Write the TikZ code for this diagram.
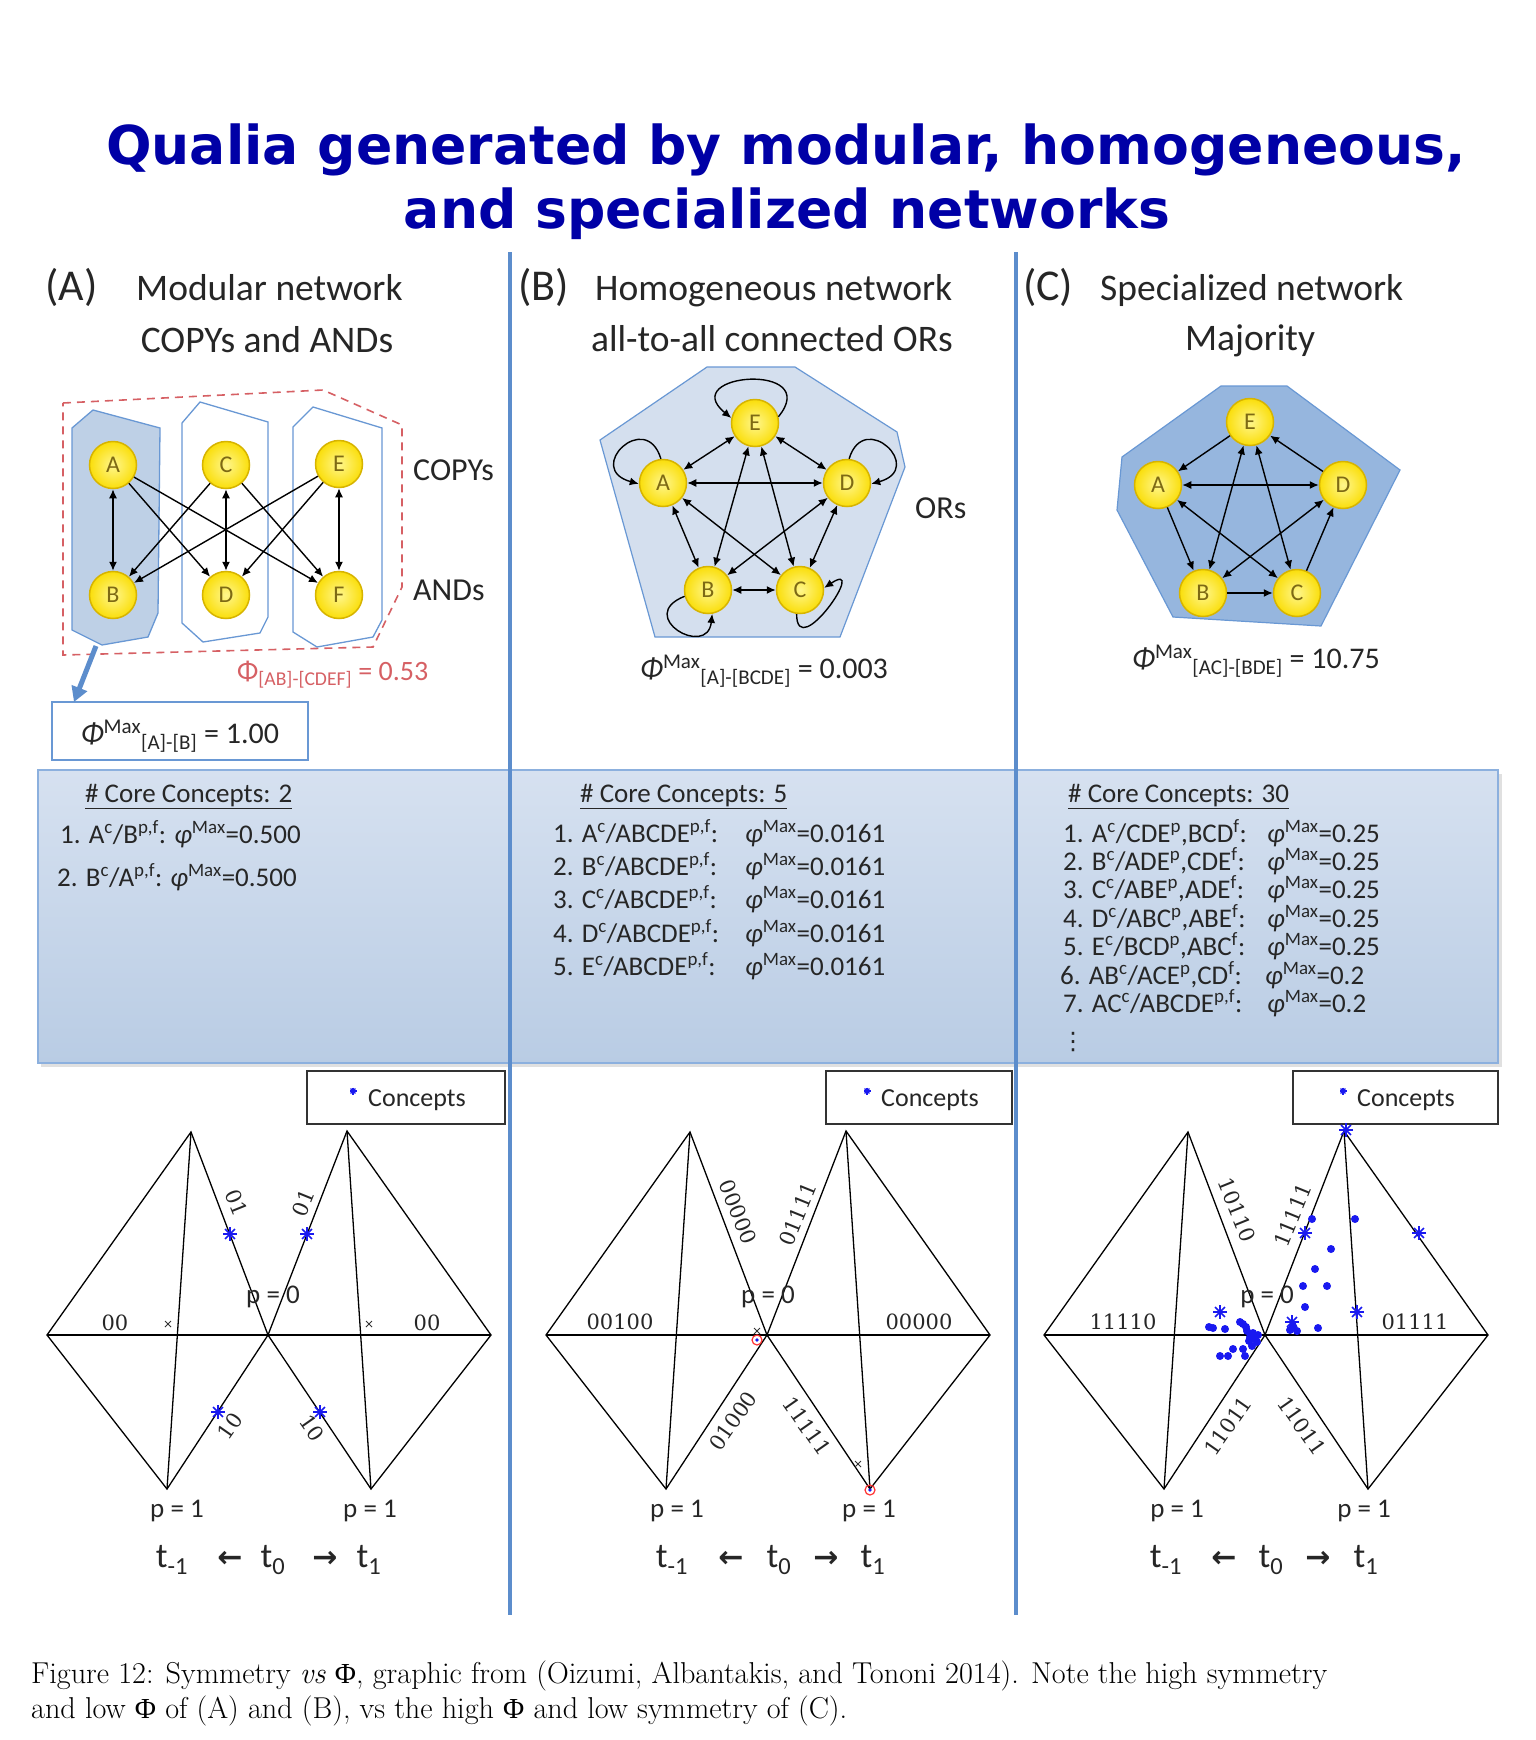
\documentclass[tikz,border=0pt]{standalone}
\usepackage{fontspec}
\newfontfamily\calib{Carlito}
\newfontfamily\djs{DejaVu Sans}
\newfontfamily\djsb{DejaVu Sans Bold}
\newfontfamily\djserif{DejaVu Serif}
\newfontfamily\libser{Liberation Serif}
\usetikzlibrary{arrows.meta,calc}
\definecolor{titleblue}{RGB}{0,0,166}
\definecolor{divblue}{RGB}{92,141,204}
\definecolor{boxtop}{RGB}{214,225,240}
\definecolor{boxbot}{RGB}{185,204,228}
\definecolor{boxedge}{RGB}{140,176,222}
\definecolor{modfill}{RGB}{190,208,230}
\definecolor{modedge}{RGB}{105,152,212}
\definecolor{pentB}{RGB}{212,223,238}
\definecolor{pentC}{RGB}{150,182,222}
\definecolor{nodeY}{RGB}{250,222,10}
\definecolor{nodeL}{RGB}{255,246,140}
\definecolor{nodeYd}{RGB}{215,180,0}
\definecolor{nodeT}{RGB}{125,105,20}
\definecolor{phired}{RGB}{214,96,100}
\definecolor{starblue}{RGB}{25,25,240}
\definecolor{txt}{RGB}{38,38,38}
\newcommand\fs[1]{\fontsize{#1}{#1}\selectfont}
\newcommand\spp[1]{\textsuperscript{#1}}
\newcommand\sbb[1]{\textsubscript{#1}}
\newcommand\PhiMax{{\itshape Φ}\spp{Max}}
\newcommand\phimax{{\itshape φ}\spp{Max}}
\newcommand\capPhi{{\libser\fontsize{29}{35}\selectfont Φ}}
\newcommand\diamondplot[1]{%
  \coordinate (#1L) at (-221,0);
  \coordinate (#1T) at (-77,-203);
  \coordinate (#1B) at (-101,154);
  \coordinate (#1M) at (0,0);
  \coordinate (#1U) at (79,-204);
  \coordinate (#1R) at (223,0);
  \coordinate (#1D) at (103,154);
  \draw[plotline] (#1L) -- (#1T) -- (#1M) -- (#1B) -- cycle;
  \draw[plotline] (#1T) -- (#1B);
  \draw[plotline] (#1L) -- (#1R);
  \draw[plotline] (#1M) -- (#1U) -- (#1R) -- (#1D) -- cycle;
  \draw[plotline] (#1U) -- (#1D);
}
\tikzset{
  ttl/.style={font=\djsb\fs{53.6}, text=titleblue, inner sep=0pt, anchor=base},
  hdr/.style={font=\calib\fs{37.5}, text=txt, inner sep=0pt, anchor=base west},
  hdrbig/.style={font=\calib\fs{44}, text=txt, inner sep=0pt, anchor=base west},
  lbl/.style={font=\calib\fs{32}, text=txt, inner sep=0pt, anchor=base west},
  phit/.style={font=\calib\fs{30}, text=txt, inner sep=0pt, anchor=base west},
  core/.style={font=\calib\fs{27}, text=txt, inner sep=0pt, anchor=base west},
  ball/.style={circle, draw=nodeYd, line width=1.5pt, minimum size=47pt, inner sep=0pt,
    inner color=nodeL, outer color=nodeY, font=\calib\fs{24}, text=nodeT},
  ar/.style={-{Latex[length=9pt,width=8pt]}, line width=1.4pt, black},
  bi/.style={{Latex[length=9pt,width=8pt]}-{Latex[length=9pt,width=8pt]}, line width=1.4pt, black},
  plotline/.style={line width=1.3pt, black},
  bin/.style={font=\djserif\fs{21}, text=black!85, inner sep=0pt},
  pz/.style={font=\calib\fs{27}, text=txt, inner sep=0pt},
  pone/.style={font=\calib\fs{27}, text=txt, inner sep=0pt, anchor=base},
  tl/.style={font=\calib\fs{35}, text=txt, inner sep=0pt, anchor=base},
  arrl/.style={font=\djsb\fs{30}, text=txt, inner sep=0pt, anchor=base},
  leg/.style={draw=black!80, line width=2pt, inner sep=0pt},
  legt/.style={font=\calib\fs{26}, text=txt, inner sep=0pt, anchor=base west},
  ast/.pic={\foreach \a in {0,45,90,135}{\draw[starblue, line width=1.7pt] (\a:7pt) -- (\a+180:7pt);}},
  asts/.pic={\foreach \a in {0,45,90,135}{\draw[starblue, line width=1.2pt] (\a:3.5pt) -- (\a+180:3.5pt);}},
  xm/.pic={\draw[black!80, line width=0.9pt] (-3pt,-3pt) -- (3pt,3pt) (-3pt,3pt) -- (3pt,-3pt);},
}
\begin{document}
\begin{tikzpicture}[x=1pt,y=-1pt]
\useasboundingbox (0,0) rectangle (1536,1740);
\fill[white] (0,0) rectangle (1536,1740);

% ---------- title ----------
\node[ttl] (title1) at (786,164) {Qualia generated by modular, homogeneous,};
\node[ttl] (title2) at (787,228) {and specialized networks};

% ---------- core concepts band ----------
\fill[black!12] (41,774) rectangle (1502,1067);
\shadedraw[top color=boxtop, bottom color=boxbot, draw=boxedge, line width=1.5pt] (38,770) rectangle (1498,1063);

% ---------- dividers ----------
\draw[divblue, line width=4pt] (510,252) -- (510,1615);
\draw[divblue, line width=4pt] (1016,252) -- (1016,1615);

% ---------- headers ----------
\node[hdrbig] (ha) at (45,300) {(A)};
\node[hdr] (hat) at (136,300) {Modular network};
\node[hdr, anchor=base] (has) at (267,352) {COPYs and ANDs};
\node[hdrbig] (hb) at (518,300) {(B)};
\node[hdr] (hbt) at (595,300) {Homogeneous network};
\node[hdr, anchor=base] (hbs) at (772,351) {all-to-all connected ORs};
\node[hdrbig] (hc) at (1023,300) {(C)};
\node[hdr] (hct) at (1100,300) {Specialized network};
\node[hdr, anchor=base] (hcs) at (1250,350) {Majority};

% ---------- panel A network ----------
\draw[phired, line width=1.6pt, dash pattern=on 8pt off 6pt] (63,403) -- (323,390) -- (402,425) -- (402,587) -- (373,647) -- (63,655) -- cycle;
\draw[modedge, line width=1.3pt, fill=modfill] (72,428) -- (93,410) -- (160,428) -- (158,613) -- (148,637) -- (102,645) -- (72,630) -- cycle;
\draw[modedge, line width=1.3pt] (182,423) -- (200,402) -- (268,422) -- (268,617) -- (260,633) -- (203,642) -- (182,623) -- cycle;
\draw[modedge, line width=1.3pt] (293,427) -- (313,407) -- (382,428) -- (382,620) -- (373,637) -- (317,647) -- (293,632) -- cycle;
\node[ball] (aA) at (113,465) {A};
\node[ball] (aC) at (226,465) {C};
\node[ball] (aE) at (339,464) {E};
\node[ball] (aB) at (113,595) {B};
\node[ball] (aD) at (226,595) {D};
\node[ball] (aF) at (339,595) {F};
\draw[bi] (aA) -- (aB);
\draw[bi] (aC) -- (aD);
\draw[bi] (aE) -- (aF);
\draw[ar] (aA) -- (aD);
\draw[ar] (aA) -- (aF);
\draw[ar] (aC) -- (aB);
\draw[ar] (aC) -- (aF);
\draw[ar] (aE) -- (aB);
\draw[ar] (aE) -- (aD);
\node[lbl] (copys) at (413,480) {COPYs};
\node[lbl] (ands) at (413,600) {ANDs};
\node[phit, text=phired, font=\calib\fs{28}] (phiAB) at (237,680) {Φ\sbb{[AB]-[CDEF]} = 0.53};
\node[draw=modedge, line width=1.3pt, fill=white, minimum width=256pt, minimum height=58pt, inner sep=0pt] (phiAbox) at (180,731) {};
\node[phit, anchor=base] (phiA) at (180,743) {\PhiMax\sbb{[A]-[B]} = 1.00};
\coordinate (arrS) at (96,646);
\coordinate (arrE) at (74,702);
\draw[divblue, line width=5pt, -{Triangle[length=15pt,width=16pt]}] (arrS) -- (arrE);

% ---------- panel B network ----------
\draw[modedge, line width=1.2pt, fill=pentB] (600,440) -- (707,367) -- (795,367) -- (897,432) -- (905,467) -- (840,637) -- (655,637) -- cycle;
\node[ball] (bE) at (755,423) {E};
\node[ball] (bA) at (663,483) {A};
\node[ball] (bD) at (847,483) {D};
\node[ball] (bB) at (708,590) {B};
\node[ball] (bC) at (800,590) {C};
\draw[bi] (bA) -- (bE);
\draw[bi] (bE) -- (bD);
\draw[bi] (bA) -- (bD);
\draw[bi] (bA) -- (bB);
\draw[bi] (bD) -- (bC);
\draw[bi] (bB) -- (bC);
\draw[bi] (bE) -- (bB);
\draw[bi] (bE) -- (bC);
\draw[bi] (bA) -- (bC);
\draw[bi] (bD) -- (bB);
\draw[ar] (bE.15) .. controls +(45,-55) and +(-55,-45) .. (bE.168);
\draw[ar] (bA.95) .. controls +(-15,-50) and +(-55,-15) .. (bA.182);
\draw[ar] (bD.85) .. controls +(15,-50) and +(55,-15) .. (bD.-2);
\draw[ar] (bB.195) .. controls +(-50,20) and +(-5,45) .. (bB.280);
\draw[ar] (bC.262) .. controls +(0,50) and +(45,-30) .. (bC.5);
\node[lbl] (ors) at (915,518) {ORs};
\node[phit] (phiB) at (640,678) {\PhiMax\sbb{[A]-[BCDE]} = 0.003};

% ---------- panel C network ----------
\draw[modedge, line width=1.2pt, fill=pentC] (1122,457) -- (1221,386) -- (1287,386) -- (1400,470) -- (1321,626) -- (1173,617) -- (1117,510) -- cycle;
\node[ball] (cE) at (1250,422) {E};
\node[ball] (cA) at (1158,485) {A};
\node[ball] (cD) at (1343,485) {D};
\node[ball] (cB) at (1203,593) {B};
\node[ball] (cC) at (1297,593) {C};
\draw[ar] (cE) -- (cA);
\draw[ar] (cD) -- (cE);
\draw[bi] (cA) -- (cD);
\draw[ar] (cA) -- (cB);
\draw[bi] (cA) -- (cC);
\draw[bi] (cE) -- (cB);
\draw[bi] (cE) -- (cC);
\draw[bi] (cD) -- (cB);
\draw[ar] (cB) -- (cC);
\draw[ar] (cC) -- (cD);
\node[phit] (phiC) at (1132,668) {\PhiMax\sbb{[AC]-[BDE]} = 10.75};

% ---------- core concepts text ----------
\node[core] (ccA) at (85,802) {\underline{\# Core Concepts: 2}};
\node[core] (ccA1) at (60,843) {1. A\spp{c}/B\spp{p,f}: \phimax=0.500};
\node[core] (ccA2) at (57,886) {2. B\spp{c}/A\spp{p,f}: \phimax=0.500};

\node[core] (ccB) at (580,802) {\underline{\# Core Concepts: 5}};
\node[core] (ccB1) at (553,842) {1. A\spp{c}/ABCDE\spp{p,f}:};
\node[core] (ccB2) at (553,875) {2. B\spp{c}/ABCDE\spp{p,f}:};
\node[core] (ccB3) at (553,908) {3. C\spp{c}/ABCDE\spp{p,f}:};
\node[core] (ccB4) at (553,942) {4. D\spp{c}/ABCDE\spp{p,f}:};
\node[core] (ccB5) at (553,975) {5. E\spp{c}/ABCDE\spp{p,f}:};
\node[core] (ccB1v) at (745,842) {\phimax=0.0161};
\node[core] (ccB2v) at (745,875) {\phimax=0.0161};
\node[core] (ccB3v) at (745,908) {\phimax=0.0161};
\node[core] (ccB4v) at (745,942) {\phimax=0.0161};
\node[core] (ccB5v) at (745,975) {\phimax=0.0161};

\node[core] (ccC) at (1068,802) {\underline{\# Core Concepts: 30}};
\node[core] (ccC1) at (1063,842) {1. A\spp{c}/CDE\spp{p},BCD\spp{f}:};
\node[core] (ccC2) at (1063,870) {2. B\spp{c}/ADE\spp{p},CDE\spp{f}:};
\node[core] (ccC3) at (1063,898) {3. C\spp{c}/ABE\spp{p},ADE\spp{f}:};
\node[core] (ccC4) at (1063,927) {4. D\spp{c}/ABC\spp{p},ABE\spp{f}:};
\node[core] (ccC5) at (1063,955) {5. E\spp{c}/BCD\spp{p},ABC\spp{f}:};
\node[core] (ccC6) at (1060,984) {6. AB\spp{c}/ACE\spp{p},CD\spp{f}:};
\node[core] (ccC7) at (1063,1012) {7. AC\spp{c}/ABCDE\spp{p,f}:};
\node[core] (ccC1v) at (1267,842) {\phimax=0.25};
\node[core] (ccC2v) at (1267,870) {\phimax=0.25};
\node[core] (ccC3v) at (1267,898) {\phimax=0.25};
\node[core] (ccC4v) at (1267,927) {\phimax=0.25};
\node[core] (ccC5v) at (1267,955) {\phimax=0.25};
\node[core] (ccC6v) at (1265,984) {\phimax=0.2};
\node[core] (ccC7v) at (1267,1012) {\phimax=0.2};
\node[font=\djs\fs{24}, text=txt, inner sep=0pt] (ccCdots) at (1073,1042) {⋮};

% ---------- legends ----------
\node[leg, minimum width=198pt, minimum height=53pt] (legA) at (406,1097.5) {};
\pic at (353,1091) {asts};
\node[legt] (legAt) at (368,1106) {Concepts};
\node[leg, minimum width=186pt, minimum height=53pt] (legB) at (919,1097.5) {};
\pic at (867,1091) {asts};
\node[legt] (legBt) at (881,1106) {Concepts};
\node[leg, minimum width=205pt, minimum height=53pt] (legC) at (1395.5,1097.5) {};
\pic at (1343,1091) {asts};
\node[legt] (legCt) at (1357,1106) {Concepts};

% ---------- plot A ----------
\begin{scope}[shift={(268,1335)}]
\diamondplot{a}
\node[bin] (a00l) at (-153,-12) {00};
\node[bin] (a00r) at (159,-12) {00};
\node[pz] (ap0) at (5,-38) {p = 0};
\node[bin, rotate=-68] (a01l) at (-31,-132) {01};
\node[bin, rotate=68] (a01r) at (35,-132) {01};
\node[bin, rotate=55] (a10l) at (-38,91) {10};
\node[bin, rotate=-55] (a10r) at (44,93) {10};
\pic at (-100,-11) {xm};
\pic at (101,-11) {xm};
\pic at (-38,-101) {ast};
\pic at (39,-101) {ast};
\pic at (-50,77) {ast};
\pic at (52,77) {ast};
\node[pone] (ap1l) at (-91,182) {p = 1};
\node[pone] (ap1r) at (102,182) {p = 1};
\node[tl] (atm) at (-96,232) {t\sbb{-1}};
\node[arrl] (ala) at (-38,232) {←};
\node[tl] (at0) at (5,232) {t\sbb{0}};
\node[arrl] (ara) at (57,232) {→};
\node[tl] (at1) at (101,232) {t\sbb{1}};
\end{scope}

% ---------- plot B ----------
\begin{scope}[shift={(767,1335)}]
\diamondplot{b}
\node[bin] (b00l) at (-147,-13) {00100};
\node[bin] (b00r) at (152,-13) {00000};
\node[pz] (bp0) at (1,-38) {p = 0};
\node[bin, rotate=-68] (b01l) at (-29,-123) {00000};
\node[bin, rotate=68] (b01r) at (31,-121) {01111};
\node[bin, rotate=55] (b10l) at (-34,86) {01000};
\node[bin, rotate=-55] (b10r) at (40,91) {11111};
\pic at (-10,-4) {xm};
\pic at (91,129) {xm};
\draw[red!80, line width=1.2pt] (-10,5) circle (5pt);
\fill[starblue] (-10,5) circle (1.8pt);
\draw[red!80, line width=1.2pt] (103,155) circle (5pt);
\fill[starblue] (103,155) circle (1.8pt);
\node[pone] (bp1l) at (-90,182) {p = 1};
\node[pone] (bp1r) at (102,182) {p = 1};
\node[tl] (btm) at (-95,232) {t\sbb{-1}};
\node[arrl] (bla) at (-36,232) {←};
\node[tl] (bt0) at (12,232) {t\sbb{0}};
\node[arrl] (bra) at (59,232) {→};
\node[tl] (bt1) at (106,232) {t\sbb{1}};
\end{scope}

% ---------- plot C ----------
\begin{scope}[shift={(1265,1335)}]
\diamondplot{c}
\node[bin] (c00l) at (-142,-13) {11110};
\node[bin] (c00r) at (150,-13) {01111};
\node[pz] (cp0) at (2,-38) {p = 0};
\node[bin, rotate=-68] (c01l) at (-28,-125) {10110};
\node[bin, rotate=68] (c01r) at (28,-120) {11111};
\node[bin, rotate=55] (c10l) at (-37,91) {11011};
\node[bin, rotate=-55] (c10r) at (37,91) {11011};
\node[pone] (cp1l) at (-88,182) {p = 1};
\node[pone] (cp1r) at (99,182) {p = 1};
\node[tl] (ctm) at (-99,232) {t\sbb{-1}};
\node[arrl] (cla) at (-41,232) {←};
\node[tl] (ct0) at (6,232) {t\sbb{0}};
\node[arrl] (cra) at (53,232) {→};
\node[tl] (ct1) at (101,232) {t\sbb{1}};
\end{scope}
% scattered concepts in C
\foreach \p in {(1346,1130),(1305,1233),(1419,1233),(1357,1312),(1292,1322),(1220,1312)} {\pic at \p {ast};}
\foreach \p in {(1312,1219),(1355,1219),(1331,1249),(1315,1269),(1303,1286),(1327,1286),(1305,1307),
  (1290,1330),(1297,1331),(1318,1328),(1293,1326),
  (1209,1327),(1213,1328),(1225,1329),(1240,1322),(1243,1324),(1247,1331),(1250,1337),(1255,1339),
  (1257,1342),(1252,1346),(1243,1349),(1233,1349),(1228,1356),(1220,1356),(1245,1356),(1258,1335),
  (1249,1341),(1253,1333),(1246,1327)} {\fill[starblue] \p circle (4pt);}

% ---------- caption ----------
\node[font=\rmfamily\fontsize{30.2}{35}\selectfont, inner sep=0pt, anchor=base west] (cap1) at (31,1683)
  {Figure 12: Symmetry \textit{vs} \capPhi, graphic from (Oizumi, Albantakis, and Tononi 2014). Note the high symmetry};
\node[font=\rmfamily\fontsize{30.2}{35}\selectfont, inner sep=0pt, anchor=base west] (cap2) at (31,1718)
  {and low \capPhi{} of (A) and (B), vs the high \capPhi{} and low symmetry of (C).};
\end{tikzpicture}
\end{document}
